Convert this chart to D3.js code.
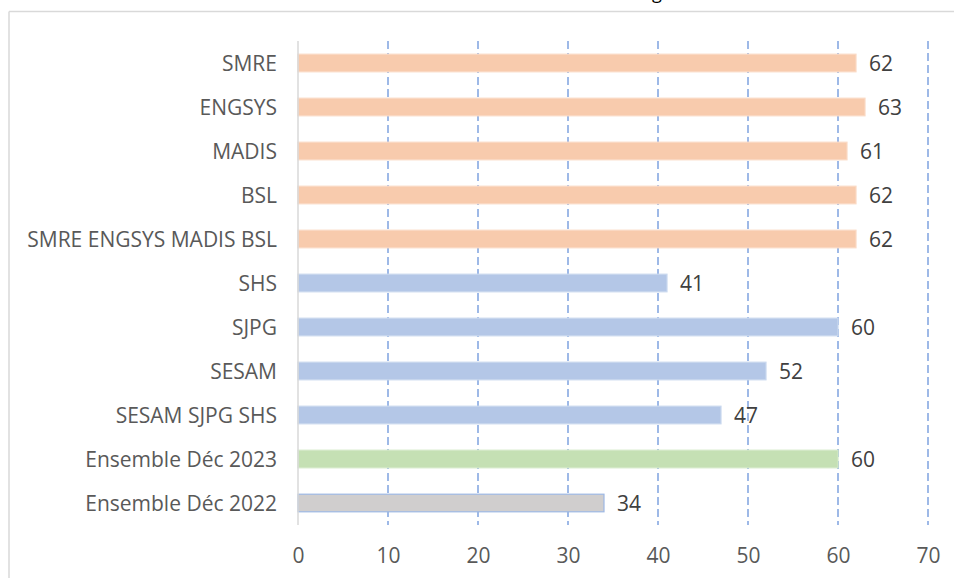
<!DOCTYPE html>
<html>
<head>
<meta charset="utf-8">
<script src="https://cdn.jsdelivr.net/npm/d3@7"></script>
<style>
html,body{margin:0;padding:0;background:#fff;}
svg{display:block;}
</style>
</head>
<body>
<svg id="chart" width="954" height="578"></svg>
<script>
const categories = ["SMRE","ENGSYS","MADIS","BSL","SMRE ENGSYS MADIS BSL","SHS","SJPG","SESAM","SESAM SJPG SHS","Ensemble Déc 2023","Ensemble Déc 2022"];
const values = [62,63,61,62,62,41,60,52,47,60,34];
const groups = ["eng","eng","eng","eng","eng","hum","hum","hum","hum","all23","all22"];
const xTicks = [0,10,20,30,40,50,60,70];

const fillColors = {eng:"#F8CBAD", hum:"#B4C7E7", all23:"#C5E0B4", all22:"#D0CECE"};
const strokeColors = {eng:"#FAD9C4", hum:"#C9D7EE", all23:"#D3E8C6", all22:"#9DB8E4"};
const FONT = "'Open Sans', 'Noto Sans', sans-serif";

const svg = d3.select("#chart");

// outer chart border (top & left visible)
svg.append("line").attr("x1",9).attr("x2",954).attr("y1",11.5).attr("y2",11.5)
  .attr("stroke","#d9d9d9").attr("stroke-width",1.5);
svg.append("line").attr("x1",9).attr("x2",9).attr("y1",11.5).attr("y2",578)
  .attr("stroke","#d9d9d9").attr("stroke-width",1.5);

// cut-off title descender
svg.append("text").attr("x",657).attr("y",-1).attr("text-anchor","middle")
  .attr("font-family",FONT).attr("font-size",18).attr("fill","#000").text("g");

const x = d3.scaleLinear().domain([0,70]).range([298,928]);
const y = d3.scaleBand().domain(categories).range([41,525]).paddingInner(0.6).paddingOuter(0.3);

// gridlines
svg.append("g").selectAll("line").data(xTicks.filter(d=>d>0)).join("line")
  .attr("x1",d=>x(d)).attr("x2",d=>x(d)).attr("y1",41).attr("y2",525)
  .attr("stroke","#7FA3DF").attr("stroke-width",1.5).attr("stroke-dasharray","8,4");

// bars
svg.append("g").selectAll("rect").data(categories).join("rect")
  .attr("x",x(0)).attr("y",d=>y(d))
  .attr("width",(d,i)=>x(values[i])-x(0)).attr("height",y.bandwidth())
  .attr("fill",(d,i)=>fillColors[groups[i]])
  .attr("stroke",(d,i)=>strokeColors[groups[i]]).attr("stroke-width",1.2);

// vertical axis line
svg.append("line").attr("x1",x(0)).attr("x2",x(0)).attr("y1",41).attr("y2",525)
  .attr("stroke","#d9d9d9").attr("stroke-width",1.5);

// value labels
svg.append("g").selectAll("text").data(categories).join("text")
  .attr("x",(d,i)=>x(values[i])+13).attr("y",d=>y(d)+y.bandwidth()/2)
  .attr("dy","0.4em").attr("font-family",FONT).attr("font-size",21).attr("fill","#404040")
  .text((d,i)=>values[i]);

// category axis labels
const yAxis = d3.axisLeft(y).tickSize(0).tickPadding(21);
const ya = svg.append("g").attr("transform",`translate(${x(0)},0)`).call(yAxis);
ya.select(".domain").remove();
ya.selectAll("text").attr("font-family",FONT).attr("font-size",21).attr("fill","#595959").attr("dy","0.36em");

// x axis labels
const xAxis = d3.axisBottom(x).tickValues(xTicks).tickSize(0).tickPadding(0);
const xa = svg.append("g").attr("transform",`translate(0,563)`).call(xAxis);
xa.select(".domain").remove();
xa.selectAll("text").attr("font-family",FONT).attr("font-size",21).attr("fill","#595959").attr("y",0).attr("dy",0);
</script>
</body>
</html>
